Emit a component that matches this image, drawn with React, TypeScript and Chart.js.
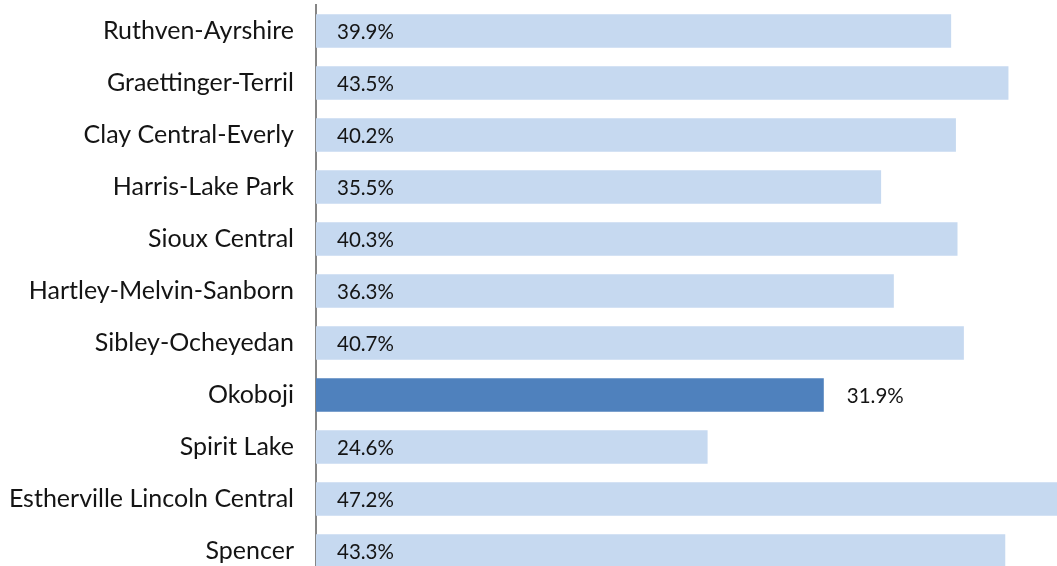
import React, { useEffect, useRef } from "react";
import { Chart, registerables } from "chart.js";

Chart.register(...registerables);

const categories = [
  "Ruthven-Ayrshire",
  "Graettinger-Terril",
  "Clay Central-Everly",
  "Harris-Lake Park",
  "Sioux Central",
  "Hartley-Melvin-Sanborn",
  "Sibley-Ocheyedan",
  "Okoboji",
  "Spirit Lake",
  "Estherville Lincoln Central",
  "Spencer",
];

const values = [39.9, 43.5, 40.2, 35.5, 40.3, 36.3, 40.7, 31.9, 24.6, 47.2, 43.3];

const highlighted = "Okoboji";

const LIGHT = "#C6D9F0";
const DARK = "#4F81BD";
const FONT = "Lato";

const valueLabelPlugin = {
  id: "valueLabels",
  afterDatasetsDraw(chart: any) {
    const ctx = chart.ctx;
    const meta = chart.getDatasetMeta(0);
    const area = chart.chartArea;
    ctx.save();
    ctx.font = `20.5px ${FONT}`;
    ctx.fillStyle = "#141414";
    ctx.textBaseline = "middle";
    ctx.textAlign = "left";
    meta.data.forEach((bar: any, i: number) => {
      const label = values[i].toFixed(1) + "%";
      const isHi = categories[i] === highlighted;
      const x = isHi ? bar.x + 23 : area.left + 21;
      ctx.fillText(label, x, bar.y + 1);
    });
    ctx.restore();
  },
};

export default function App() {
  const ref = useRef<HTMLCanvasElement | null>(null);

  useEffect(() => {
    document.body.style.margin = "0";
    const canvas = ref.current;
    if (!canvas) return;
    const chart = new Chart(canvas, {
      type: "bar",
      data: {
        labels: categories,
        datasets: [
          {
            data: values,
            backgroundColor: categories.map((c) => (c === highlighted ? DARK : LIGHT)),
            borderWidth: 0,
            barPercentage: 0.645,
            categoryPercentage: 1,
          },
        ],
      },
      options: {
        indexAxis: "y",
        responsive: false,
        animation: false,
        devicePixelRatio: 1,
        layout: { padding: { top: 5, bottom: 0, left: 0, right: 0 } },
        plugins: {
          legend: { display: false },
          tooltip: { enabled: false },
        },
        scales: {
          x: {
            display: false,
            min: 0,
            max: 46.55,
          },
          y: {
            afterFit: (s: any) => {
              s.width = 316;
              s.paddingTop = 0;
              s.paddingBottom = 0;
            },
            grid: { display: false, drawTicks: false },
            border: { display: true, color: "#868686", width: 2 },
            ticks: {
              padding: 22,
              color: "#141414",
              font: { family: FONT, size: 25 },
            },
          },
        },
      },
      plugins: [valueLabelPlugin],
    });
    return () => chart.destroy();
  }, []);

  return (
    <div
      style={{
        position: "fixed",
        left: 0,
        top: 0,
        width: 1057,
        height: 566,
        overflow: "hidden",
        background: "#fff",
      }}
    >
      <canvas ref={ref} width={1057} height={577} style={{ display: "block" }} />
    </div>
  );
}
